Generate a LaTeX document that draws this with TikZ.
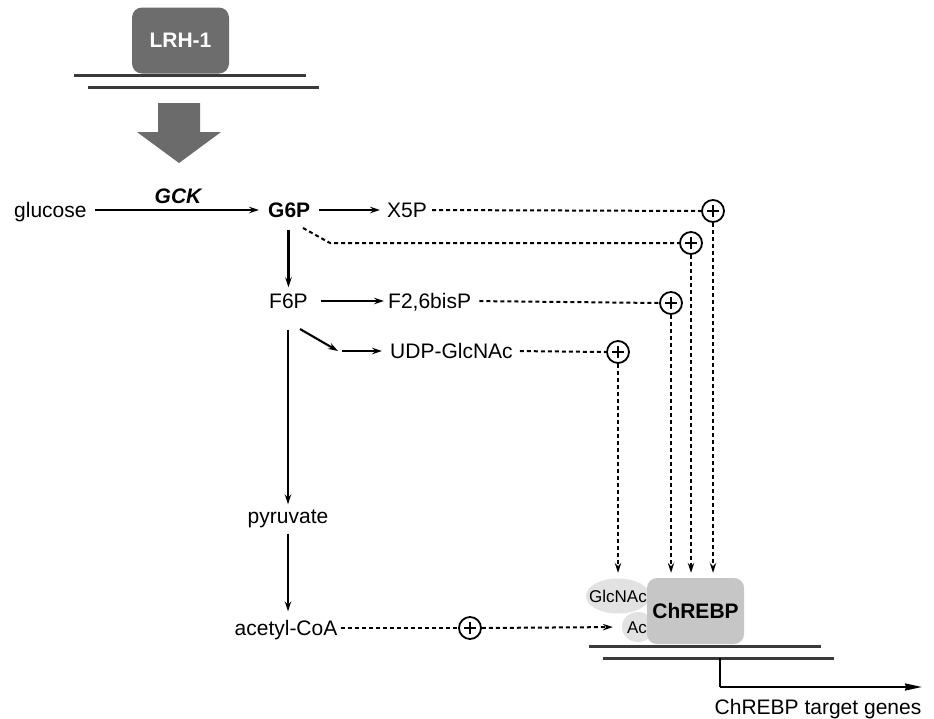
\documentclass[tikz,border=0pt]{standalone}
\usepackage{fontspec}
\setmainfont{Liberation Sans}
\usetikzlibrary{arrows.meta,calc,shapes.geometric}
\definecolor{lrhgray}{HTML}{6D6D6D}
\definecolor{bigarrow}{HTML}{6B6B6B}
\definecolor{chgray}{HTML}{C6C6C6}
\definecolor{ellgray}{HTML}{E2E2E2}
\definecolor{dnagray}{HTML}{3A3A3A}
\tikzset{
  lbl/.style={inner sep=0pt, text height=15pt, text depth=0pt, font=\fontsize{21}{25}\selectfont},
  arr/.style={line width=2.1pt, -{Stealth[length=10pt,width=6.5pt,inset=3.5pt]}},
  dsh/.style={line width=2pt, dash pattern=on 4pt off 3pt},
  dsharr/.style={dsh, -{Stealth[length=10pt,width=6.5pt,inset=3.5pt]}},
  plus/.style={circle, draw, line width=1.8pt, minimum size=22pt, inner sep=0pt,
    path picture={
      \draw[line width=1.7pt] ($(path picture bounding box.center)+(-6,0)$) -- ++(12,0);
      \draw[line width=1.7pt] ($(path picture bounding box.center)+(0,-6)$) -- ++(0,12);
    }},
  dna/.style={line width=3pt, draw=dnagray},
}
\begin{document}
\begin{tikzpicture}[x=1pt,y=-1pt]
\useasboundingbox[fill=white] (0,0) rectangle (934,718);

% LRH-1 on DNA
\node[rectangle, rounded corners=10pt, fill=lrhgray, minimum width=97pt, minimum height=66pt,
  text=white, font=\fontsize{21}{25}\selectfont\bfseries, inner sep=0pt] (lrh) at (180.5,40.5) {LRH-1};
\draw[dna] (74,75) -- (306,75);
\draw[dna] (88,87) -- (319,87);

% big arrow
\fill[bigarrow] (158,103) -- (200,103) -- (200,132) -- (221,132) -- (179,163) -- (137,132) -- (158,132) -- cycle;

% metabolites
\node[lbl, anchor=west] (glucose) at (14,210) {glucose};
\node[lbl, font=\fontsize{21}{25}\selectfont\bfseries\itshape] (gck) at (178,196) {GCK};
\node[lbl, anchor=west, font=\fontsize{21}{25}\selectfont\bfseries] (g6p) at (268,210) {G6P};
\node[lbl, anchor=west] (x5p) at (387,210) {X5P};
\node[lbl, anchor=west] (f6p) at (269,301) {F6P};
\node[lbl, anchor=west] (f26) at (388,301) {F2,6bisP};
\node[lbl, anchor=west] (udp) at (390,351) {UDP-GlcNAc};
\node[lbl] (pyr) at (288,516) {pyruvate};
\node[lbl] (acoa) at (286,628) {acetyl-CoA};

% plus circles
\node[plus] (p1) at (713,211) {};
\node[plus] (p2) at (691,243) {};
\node[plus] (p3) at (671,303) {};
\node[plus] (p4) at (618,352) {};
\node[plus] (p5) at (470,628) {};

% ChREBP complex
\node[ellipse, fill=ellgray, minimum width=64pt, minimum height=35pt, inner sep=0pt] (glcnac) at (618,596) {};
\node[ellipse, fill=ellgray, minimum width=32pt, minimum height=30pt, inner sep=0pt] (ac) at (638,627) {};
\node[font=\fontsize{17}{20}\selectfont, inner sep=0pt, text height=12pt, text depth=0pt] (glcnactxt) at (618,596) {GlcNAc};
\node[font=\fontsize{17}{20}\selectfont, inner sep=0pt, text height=12pt, text depth=0pt] (actxt) at (637,627) {Ac};
\node[rectangle, rounded corners=10pt, fill=chgray, minimum width=97pt, minimum height=66pt,
  font=\fontsize{21}{25}\selectfont\bfseries, inner sep=0pt] (chrebp) at (695.5,611) {ChREBP};
\draw[dna] (589,646) -- (821,646);
\draw[dna] (603,658) -- (834,658);
\coordinate (prom) at (720,658);
\coordinate (promturn) at (720,687);
\coordinate (promend) at (922,687);
\draw[line width=2pt] (prom) -- (promturn);
\draw[line width=2pt, -{Stealth[length=17pt,width=7pt,inset=1pt]}] (promturn) -- (promend);
\node[lbl] (target) at (818,707) {ChREBP target genes};

% solid pathway arrows
\draw[arr, shorten <=8pt, shorten >=9pt] (glucose.east) -- (g6p.west);
\draw[arr, shorten <=9pt, shorten >=7pt] (g6p.east) -- (x5p.west);
\draw[arr, shorten <=12pt, shorten >=6pt] (g6p.south -| f6p.north) -- (f6p.north);
\draw[arr, shorten <=13pt, shorten >=4pt] (f6p.east) -- (f26.west);
\coordinate (f6pd) at (300,329);
\coordinate (udpbend) at (338,351);
\draw[arr] (f6pd) -- (udpbend);
\draw[arr, shorten <=4pt, shorten >=8pt] (udpbend) -- (udp.west);
\draw[arr, shorten <=21pt, shorten >=4pt] (f6p.south -| pyr.north) -- (pyr.north);
\draw[arr, shorten <=10pt, shorten >=9pt] (pyr.south) -- (pyr.south |- acoa.north);

% dashed regulatory lines
\draw[dsh, shorten <=5pt] (x5p.east) -- (p1.west);
\coordinate (g6pd) at (303,228);
\coordinate (g6pbend) at (330,243);
\draw[dsh] (g6pd) -- (g6pbend) -- (p2.west);
\draw[dsh, shorten <=8pt] (f26.east) -- (p3.west);
\draw[dsh, shorten <=7pt] (udp.east) -- (p4.west);
\draw[dsh, shorten <=3pt] (acoa.east) -- (p5.west);
\draw[dsharr, shorten >=9pt] (p5.east) -- (ac.west);

\draw[dsharr, shorten >=5pt] (p1.south) -- (p1.south |- chrebp.north);
\draw[dsharr, shorten >=5pt] (p2.south) -- (p2.south |- chrebp.north);
\draw[dsharr, shorten >=5pt] (p3.south) -- (p3.south |- chrebp.north);
\draw[dsharr, shorten >=5pt] (p4.south) -- (p4.south |- chrebp.north);
\end{tikzpicture}
\end{document}
